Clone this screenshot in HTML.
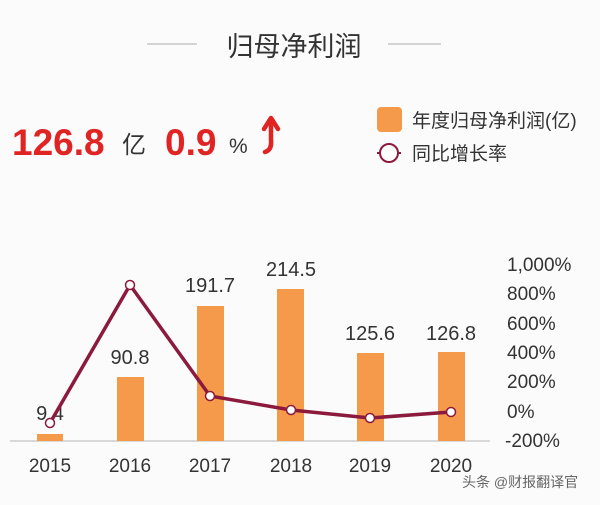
<!DOCTYPE html>
<html><head><meta charset="utf-8"><style>
html,body{margin:0;padding:0;background:#fbfbfb;}
svg{display:block;}
text{font-family:"Liberation Sans","Noto Sans CJK SC",sans-serif;}
</style></head><body>
<svg width="600" height="505" viewBox="0 0 600 505" xmlns="http://www.w3.org/2000/svg">
<rect width="600" height="505" fill="#fbfbfb"/>
<line x1="147" y1="44" x2="197" y2="44" stroke="#bbb" stroke-width="1.2"/>
<line x1="388" y1="44" x2="441" y2="44" stroke="#bbb" stroke-width="1.2"/>
<text x="294" y="56" font-size="27" fill="#333" text-anchor="middle">归母净利润</text>

<text x="12" y="155" font-size="37" font-weight="bold" fill="#e02424">126.8</text>
<text x="122" y="153" font-size="24" fill="#333">亿</text>
<text x="165" y="155" font-size="37" font-weight="bold" fill="#e02424">0.9</text>
<text x="229" y="153" font-size="21" fill="#333">%</text>
<path d="M265 152 Q272 150 271 140 L271 120" stroke="#e02424" stroke-width="4.5" fill="none" stroke-linecap="round"/>
<path d="M264 129 L271 118 L278 129" stroke="#e02424" stroke-width="4.5" fill="none" stroke-linecap="round" stroke-linejoin="round"/>

<rect x="377" y="107" width="25" height="25" rx="4" fill="#f5994a"/>
<text x="412" y="127" font-size="19" fill="#333">年度归母净利润(亿)</text>
<line x1="377" y1="153" x2="401" y2="153" stroke="#8b1a3c" stroke-width="2"/>
<circle cx="389" cy="153" r="9" fill="#fff" stroke="#8b1a3c" stroke-width="2"/>
<text x="412" y="160" font-size="19" fill="#333">同比增长率</text>

<line x1="10" y1="441" x2="490" y2="441" stroke="#ccc" stroke-width="1.5"/>
<g fill="#f5994a">
<rect x="37" y="434" width="26" height="7"/>
<rect x="117" y="377" width="27" height="64"/>
<rect x="197" y="306" width="27" height="135"/>
<rect x="277" y="289" width="27" height="152"/>
<rect x="357" y="353" width="27" height="88"/>
<rect x="438" y="352" width="27" height="89"/>
</g>
<g font-size="20" fill="#333" text-anchor="middle">
<text x="50" y="420">9.4</text>
<text x="130" y="364">90.8</text>
<text x="210" y="292">191.7</text>
<text x="291" y="276">214.5</text>
<text x="370" y="340">125.6</text>
<text x="451" y="340">126.8</text>
</g>
<polyline points="50,423 130,285 210,396 291,410 370,418 451,412" fill="none" stroke="#8b1a3c" stroke-width="3.5" stroke-linejoin="round"/>
<g fill="#fff" stroke="#8b1a3c" stroke-width="1.5">
<circle cx="50" cy="423" r="4.5"/><circle cx="130" cy="285" r="4.5"/><circle cx="210" cy="396" r="4.5"/>
<circle cx="291" cy="410" r="4.5"/><circle cx="370" cy="418" r="4.5"/><circle cx="451" cy="412" r="4.5"/>
</g>
<g font-size="19" fill="#333">
<text x="507" y="271">1,000%</text>
<text x="507" y="300">800%</text>
<text x="507" y="330">600%</text>
<text x="507" y="359">400%</text>
<text x="507" y="388">200%</text>
<text x="507" y="418">0%</text>
<text x="505" y="447">-200%</text>
</g>
<g font-size="19" fill="#333" text-anchor="middle">
<text x="50" y="472">2015</text><text x="130" y="472">2016</text><text x="210" y="472">2017</text>
<text x="291" y="472">2018</text><text x="370" y="472">2019</text><text x="451" y="472">2020</text>
</g>
<text x="462" y="487" font-size="14" fill="#666">头条 @财报翻译官</text>
</svg>
</body></html>
